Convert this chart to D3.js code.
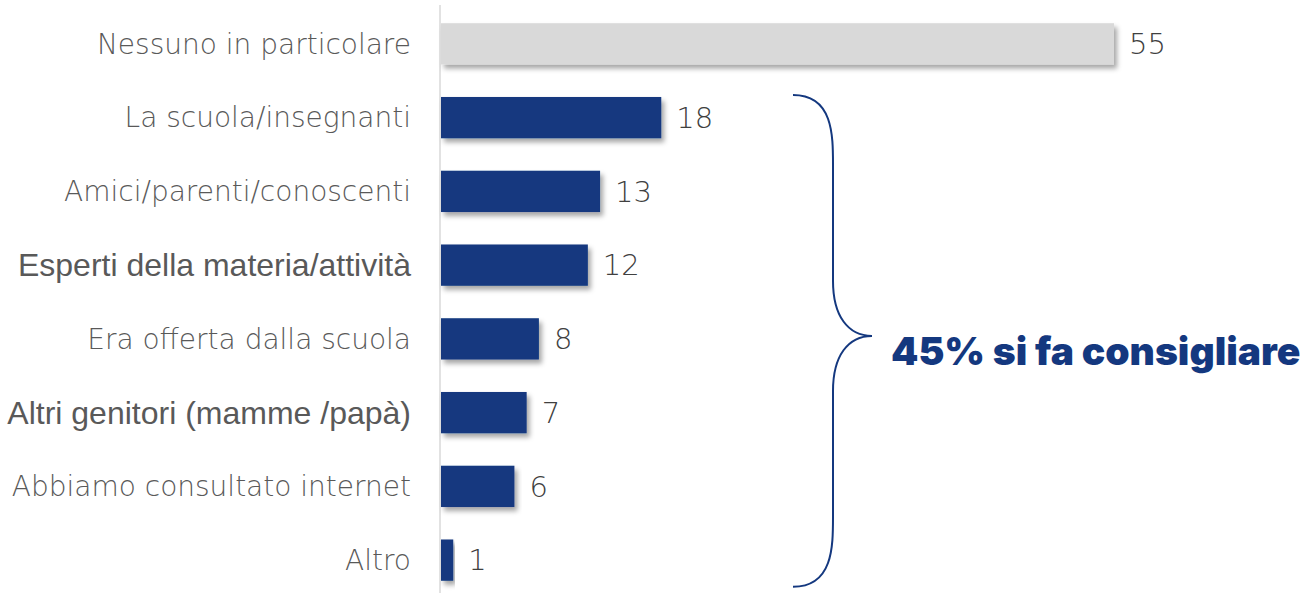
<!DOCTYPE html>
<html>
<head>
<meta charset="utf-8">
<script src="https://cdn.jsdelivr.net/npm/d3@7"></script>
<style>
  body { margin: 0; background: #fff; }
</style>
</head>
<body>
<div id="chart"></div>
<script>
var w = 1310;
var h = 593;

var categories = ["Nessuno in particolare", "La scuola/insegnanti", "Amici/parenti/conoscenti",
  "Esperti della materia/attività", "Era offerta dalla scuola", "Altri genitori (mamme /papà)",
  "Abbiamo consultato internet", "Altro"];
var values = [55, 18, 13, 12, 8, 7, 6, 1];
var boldLabels = ["Esperti della materia/attività", "Altri genitori (mamme /papà)"];
var noteText = "45% si fa consigliare";

var svg = d3.select("#chart").append("svg").attr("width", w).attr("height", h);

// shadow under the bars
var defs = svg.append("defs");
var f = defs.append("filter").attr("id", "shadow")
  .attr("x", "-5%").attr("y", "-20%").attr("width", "115%").attr("height", "160%");
f.append("feDropShadow").attr("dx", 3).attr("dy", 4).attr("stdDeviation", 2.5)
  .attr("flood-color", "#000").attr("flood-opacity", 0.35);

var x0 = 441;
var x = d3.scaleLinear().domain([0, 55]).range([x0, 1114]);
var y = d3.scaleBand().domain(categories).range([7, 597]).paddingInner(0.44).paddingOuter(0.22);

// axis line
svg.append("line")
  .attr("x1", 440).attr("x2", 440)
  .attr("y1", 5).attr("y2", h)
  .attr("stroke", "#d9d9d9").attr("stroke-width", 1.5);

svg.selectAll("rect.bar")
  .data(values)
  .enter().append("rect")
  .attr("class", "bar")
  .attr("x", x0)
  .attr("y", function(d, i) { return y(categories[i]); })
  .attr("width", function(d) { return x(d) - x0; })
  .attr("height", y.bandwidth())
  .attr("fill", function(d, i) { return i == 0 ? "#d9d9d9" : "#14387f"; })
  .attr("filter", "url(#shadow)");

function isBold(d) { return boldLabels.indexOf(d) >= 0; }

// category labels
svg.selectAll("text.cat")
  .data(categories)
  .enter().append("text")
  .attr("class", "cat")
  .text(function(d) { return d; })
  .attr("x", 411)
  .attr("y", function(d) { return y(d) + y.bandwidth() / 2; })
  .attr("dy", "0.35em")
  .attr("text-anchor", "end")
  .attr("font-family", function(d) { return isBold(d) ? "Liberation Sans" : "DejaVu Sans"; })
  .attr("font-size", function(d) { return isBold(d) ? 32 : 28; })
  .attr("font-weight", function(d) { return isBold(d) ? 400 : 200; })
  .attr("fill", "#595959");

// value labels
svg.selectAll("text.val")
  .data(values)
  .enter().append("text")
  .attr("class", "val")
  .text(function(d) { return d; })
  .attr("x", function(d) { return x(d) + 15; })
  .attr("y", function(d, i) { return y(categories[i]) + y.bandwidth() / 2; })
  .attr("dy", "0.35em")
  .attr("font-family", "DejaVu Sans")
  .attr("font-weight", 200)
  .attr("font-size", 29)
  .attr("fill", "#404040");

// curly brace from 2nd to last bar
var bTop = y(categories[1]) - 2;
var bBot = y(categories[categories.length - 1]) + y.bandwidth() + 6;
var bMid = (bTop + bBot) / 2 - 5;
var bx = 793, bx2 = 833, tip = 872;
var p = d3.path();
p.moveTo(bx, bTop);
p.bezierCurveTo(bx2, bTop, bx2, bTop + 40, bx2, bTop + 70);
p.lineTo(bx2, bMid - 55);
p.bezierCurveTo(bx2, bMid - 20, bx2 + 15, bMid, tip, bMid);
p.bezierCurveTo(bx2 + 15, bMid, bx2, bMid + 20, bx2, bMid + 55);
p.lineTo(bx2, bBot - 70);
p.bezierCurveTo(bx2, bBot - 40, bx2, bBot, bx, bBot);
svg.append("path")
  .attr("d", p.toString())
  .attr("fill", "none")
  .attr("stroke", "#14387f")
  .attr("stroke-width", 2);

svg.append("text")
  .text(noteText)
  .attr("x", 891)
  .attr("y", bMid + 29)
  .attr("font-family", "Inter")
  .attr("font-weight", 900)
  .attr("font-size", 39)
  .attr("fill", "#14387f");
</script>
</body>
</html>
